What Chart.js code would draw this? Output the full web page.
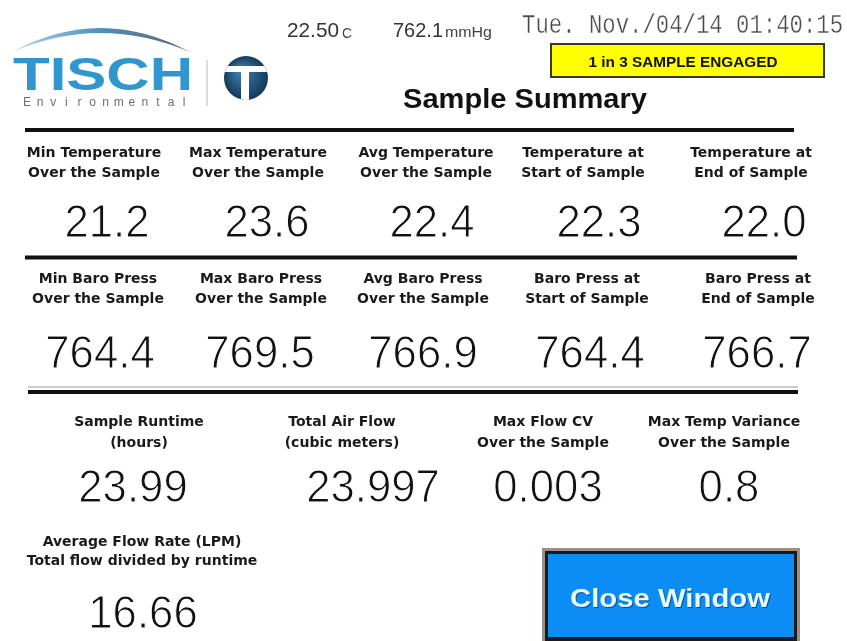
<!DOCTYPE html>
<html>
<head>
<meta charset="utf-8">
<script src="https://cdn.jsdelivr.net/npm/chart.js@4.4.1/dist/chart.umd.min.js"></script>
<style>
html,body{margin:0;padding:0;background:#fff;}
#wrap{width:847px;height:641px;position:relative;}
canvas{display:block;}
</style>
</head>
<body>
<div id="wrap"><canvas id="c" width="847" height="641"></canvas></div>
<script>
// ---- data ----
const headerReadings = ['22.50', '762.1'];
const headerUnits = ['C', 'mmHg'];
const timestamp = 'Tue. Nov./04/14 01:40:15';
const statusText = '1 in 3 SAMPLE ENGAGED';
const titleText = 'Sample Summary';
const brandName = 'TISCH';
const brandSub = 'Environmental';

const tempLabels = [
  ['Min Temperature', 'Over the Sample'],
  ['Max Temperature', 'Over the Sample'],
  ['Avg Temperature', 'Over the Sample'],
  ['Temperature at', 'Start of Sample'],
  ['Temperature at', 'End of Sample']
];
const tempValues = ['21.2', '23.6', '22.4', '22.3', '22.0'];

const baroLabels = [
  ['Min Baro Press', 'Over the Sample'],
  ['Max Baro Press', 'Over the Sample'],
  ['Avg Baro Press', 'Over the Sample'],
  ['Baro Press at', 'Start of Sample'],
  ['Baro Press at', 'End of Sample']
];
const baroValues = ['764.4', '769.5', '766.9', '764.4', '766.7'];

const runLabels = [
  ['Sample Runtime', '(hours)'],
  ['Total Air Flow', '(cubic meters)'],
  ['Max Flow CV', 'Over the Sample'],
  ['Max Temp Variance', 'Over the Sample']
];
const runValues = ['23.99', '23.997', '0.003', '0.8'];

const flowLabels = [['Average Flow Rate (LPM)', 'Total flow divided by runtime']];
const flowValues = ['16.66'];

const buttonText = 'Close Window';

// ---- layout (positions/styles only) ----
const rows = [
  {labels: tempLabels, values: tempValues, lx: [94, 258, 426, 583, 751], vx: [107, 267, 432, 599, 764], l1: 157, l2: 177, vb: 237},
  {labels: baroLabels, values: baroValues, lx: [98, 261, 423, 587, 758], vx: [100, 260, 423, 590, 757], l1: 283, l2: 303, vb: 368},
  {labels: runLabels, values: runValues, lx: [139, 342, 543, 724], vx: [133, 373, 548, 729], l1: 426, l2: 447, vb: 502},
  {labels: flowLabels, values: flowValues, lx: [142], vx: [143], l1: 546, l2: 565, vb: 628}
];
const LABEL_FONT = 'bold 14px "DejaVu Sans"';
const VALUE_FONT = '47px "Liberation Sans"';

function txt(ctx, s, x, y, font, color, align, fitW, scaleX, thin) {
  ctx.save();
  ctx.font = font;
  ctx.fillStyle = color;
  ctx.textBaseline = 'alphabetic';
  ctx.textAlign = align || 'center';
  const w = ctx.measureText(s).width;
  const sx = fitW ? fitW / w : (scaleX || 1);
  ctx.translate(x, y);
  ctx.scale(sx, 1);
  ctx.fillText(s, 0, 0);
  if (thin) {
    ctx.strokeStyle = '#ffffff';
    ctx.lineWidth = thin;
    ctx.lineJoin = 'round';
    ctx.strokeText(s, 0, 0);
  }
  ctx.restore();
}

function hline(ctx, x0, x1, y, w, color) {
  ctx.save();
  ctx.strokeStyle = color; ctx.lineWidth = w;
  ctx.beginPath(); ctx.moveTo(x0, y); ctx.lineTo(x1, y); ctx.stroke();
  ctx.restore();
}

function drawLogo(ctx) {
  // swoosh arc
  ctx.save();
  const g = ctx.createLinearGradient(12, 0, 190, 0);
  g.addColorStop(0, '#a9daf2');
  g.addColorStop(0.5, '#4f8fbc');
  g.addColorStop(1, '#5a6670');
  ctx.fillStyle = g;
  ctx.beginPath();
  ctx.moveTo(12, 52);
  ctx.quadraticCurveTo(100, 4, 190, 52);
  ctx.quadraticCurveTo(100, 14, 12, 52);
  ctx.closePath();
  ctx.fill();
  ctx.restore();

  // TISCH
  ctx.save();
  const tg = ctx.createLinearGradient(0, 57, 0, 90);
  tg.addColorStop(0, '#3196cf');
  tg.addColorStop(0.5, '#1b77ae');
  tg.addColorStop(1, '#0e527f');
  ctx.font = 'bold 46px "Liberation Sans"';
  const w = ctx.measureText(brandName).width;
  ctx.translate(13, 90);
  ctx.scale(180 / w, 1);
  ctx.fillStyle = tg;
  ctx.textBaseline = 'alphabetic';
  ctx.textAlign = 'left';
  ctx.fillText(brandName, 0, 0);
  ctx.restore();

  // Environmental (letter spaced)
  ctx.save();
  ctx.font = '12px "Liberation Sans"';
  ctx.fillStyle = '#6e6e6e';
  ctx.textAlign = 'center';
  ctx.textBaseline = 'alphabetic';
  for (let i = 0; i < brandSub.length; i++) {
    ctx.fillText(brandSub[i], 27 + i * 13.1, 106);
  }
  ctx.restore();

  // separator
  ctx.save();
  ctx.strokeStyle = '#cfcfcf'; ctx.lineWidth = 1.5;
  ctx.beginPath(); ctx.moveTo(207, 60); ctx.lineTo(207, 106); ctx.stroke();
  ctx.restore();

  // circle emblem
  ctx.save();
  const cx = 246, cy = 78, r = 22;
  const cg = ctx.createRadialGradient(cx - 6, cy - 8, 2, cx, cy, r);
  cg.addColorStop(0, '#3a7fb0');
  cg.addColorStop(1, '#143a5a');
  ctx.fillStyle = cg;
  ctx.beginPath(); ctx.arc(cx, cy, r, 0, Math.PI * 2); ctx.fill();
  ctx.beginPath(); ctx.arc(cx, cy, r, 0, Math.PI * 2); ctx.clip();
  ctx.fillStyle = '#ffffff';
  ctx.fillRect(cx - 24, cy - 12, 48, 6);
  ctx.fillRect(cx - 5, cy - 12, 8, 36);
  ctx.restore();
}

const summaryPlugin = {
  id: 'summary',
  beforeDraw(chart) {
    const ctx = chart.ctx;
    ctx.save();
    ctx.fillStyle = '#ffffff';
    ctx.fillRect(0, 0, chart.width, chart.height);
    ctx.restore();
  },
  afterDraw(chart) {
    const ctx = chart.ctx;
    drawLogo(ctx);

    // header readings
    txt(ctx, headerReadings[0], 287, 37, '21px "Liberation Sans"', '#333', 'left', 52);
    txt(ctx, headerUnits[0], 342, 38, '15px "Liberation Sans"', '#444', 'left', 10);
    txt(ctx, headerReadings[1], 393, 37, '21px "Liberation Sans"', '#333', 'left', 50);
    txt(ctx, headerUnits[1], 445, 37, '14px "Liberation Sans"', '#444', 'left', 47);
    txt(ctx, timestamp, 522, 33, '27px "Liberation Mono"', '#4a4a4a', 'left', 321, null, 0.4);

    // status box
    ctx.save();
    ctx.fillStyle = '#ffff00';
    ctx.fillRect(550, 43, 275, 35);
    ctx.strokeStyle = '#3a3a2a'; ctx.lineWidth = 2;
    ctx.strokeRect(551, 44, 273, 33);
    ctx.restore();
    txt(ctx, statusText, 683, 67, 'bold 14px "Liberation Sans"', '#111', 'center', 189);

    // title
    txt(ctx, titleText, 525, 108, 'bold 28px "Liberation Sans"', '#111', 'center', 244);

    // separator lines
    hline(ctx, 25, 794, 130, 4, '#111');
    hline(ctx, 25, 797, 257.5, 4, '#111');
    hline(ctx, 28, 798, 387, 1, '#9a9a9a');
    hline(ctx, 28, 798, 392, 4, '#111');

    // rows
    rows.forEach(row => {
      row.labels.forEach((lab, i) => {
        txt(ctx, lab[0], row.lx[i], row.l1, LABEL_FONT, '#1a1a1a', 'center');
        txt(ctx, lab[1], row.lx[i], row.l2, LABEL_FONT, '#1a1a1a', 'center');
      });
      row.values.forEach((v, i) => {
        txt(ctx, v, row.vx[i], row.vb, VALUE_FONT, '#111', 'center', null, 0.93, 1.0);
      });
    });

    // close button
    ctx.save();
    ctx.fillStyle = '#9b8f86';
    ctx.fillRect(542, 548, 258, 93);
    ctx.fillStyle = '#1a1a1a';
    ctx.fillRect(545, 551, 252, 90);
    ctx.fillStyle = '#0c8cf5';
    ctx.fillRect(548, 554, 246, 83);
    ctx.restore();
    ctx.save();
    ctx.shadowColor = 'rgba(0,40,90,0.6)';
    ctx.shadowOffsetX = 1; ctx.shadowOffsetY = 1;
    txt(ctx, buttonText, 670, 607, 'bold 26px "Liberation Sans"', '#e8fbff', 'center', 200);
    ctx.restore();
  }
};

new Chart(document.getElementById('c'), {
  type: 'bar',
  data: { labels: [], datasets: [] },
  options: {
    responsive: false,
    animation: false,
    devicePixelRatio: 1,
    layout: { padding: 0 },
    plugins: { legend: { display: false }, tooltip: { enabled: false }, title: { display: false } },
    scales: { x: { display: false }, y: { display: false } }
  },
  plugins: [summaryPlugin]
});
</script>
</body>
</html>
